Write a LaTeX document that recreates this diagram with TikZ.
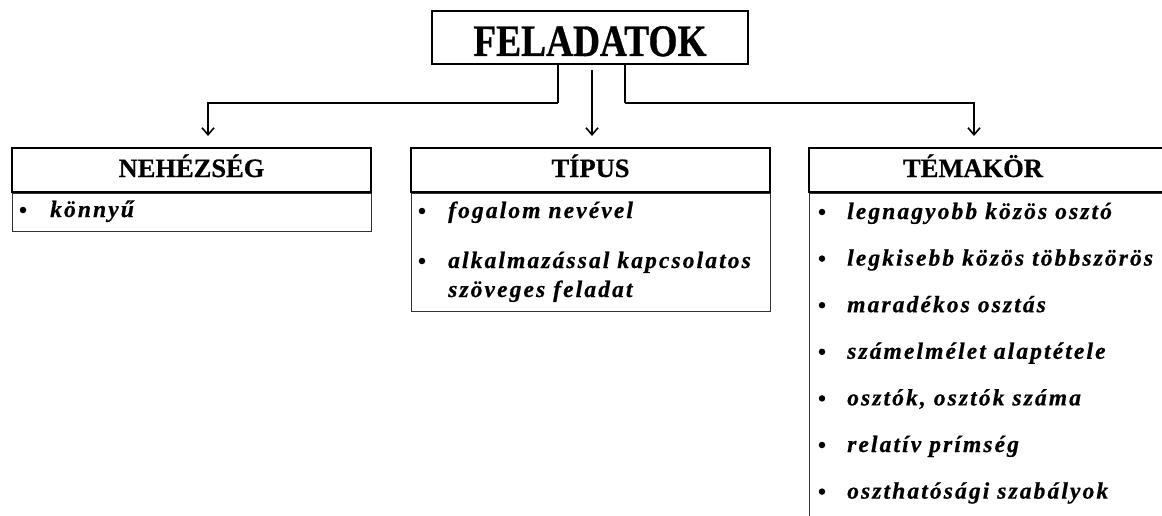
\documentclass[tikz,border=0pt]{standalone}
\usepackage{fontspec}
\setmainfont{Liberation Serif}
\usepackage{graphicx}
\usetikzlibrary{arrows.meta,calc}
\newcommand{\itm}{\fontsize{23.5}{28}\selectfont\bfseries\itshape\addfontfeature{LetterSpace=9,FakeBold=0.6}}
\newcommand{\hdrf}{\fontsize{26.5}{30}\selectfont\bfseries\addfontfeature{FakeBold=0.6}}
\begin{document}
\begin{tikzpicture}[x=1pt,y=-1pt,
  hdr/.style={draw=black,line width=1.6pt,inner sep=0pt,text height=29pt,text depth=15pt,font=\hdrf},
  bodybox/.style={draw=black!80,line width=1pt,inner sep=0pt,anchor=north},
  item/.style={anchor=base west,inner sep=0pt,font=\itm,align=left},
  dot/.style={circle,fill=black,inner sep=0pt,minimum size=6.5pt},
  arr/.style={draw=black,line width=1.6pt,-{Straight Barb[length=7pt,width=12pt]}},
  con/.style={draw=black,line width=1.6pt}]
\useasboundingbox (0,0) rectangle (1162,516);
\fill[white] (0,0) rectangle (1162,516);
% top node
\node (top) [draw=black,line width=1.8pt,minimum width=316pt,minimum height=53pt,inner sep=0pt,
  text height=45pt,text depth=8pt] at (590,37.5)
  {\fontsize{45}{48}\selectfont\bfseries\addfontfeature{FakeBold=0.8}\scalebox{0.83}[1]{FELADATOK}};
% headers
\node (nh) [hdr,minimum width=359pt] at (191.5,170) {NEHÉZSÉG};
\node (th) [hdr,minimum width=359pt] at (590.5,170) {TÍPUS};
\node (mh) [hdr,minimum width=370pt] at (994,170) {};
\node (mht) [font=\hdrf,inner sep=0pt,anchor=base] at (973,177) {TÉMAKÖR};
% body boxes
\node (nb) [bodybox,minimum width=359pt,minimum height=38pt] at (nh.south) {};
\node (tb) [bodybox,minimum width=359pt,minimum height=118pt] at (th.south) {};
\node (mb) [bodybox,minimum width=370pt,minimum height=340pt] at (mh.south) {};
% connectors
\coordinate (la) at (208,136);
\coordinate (ra) at (974,136);
\coordinate (ma) at (592,136);
\draw[con] ([xshift=-32pt]top.south) -- ++(0,38) coordinate (l1);
\draw[arr] (l1) -| (la);
\draw[con] ([xshift=35pt]top.south) -- ++(0,38) coordinate (r1);
\draw[arr] (r1) -| (ra);
\draw[arr] ([xshift=2pt,yshift=-5pt]top.south) -- (ma);
% NEHÉZSÉG items
\node (n1) [item] at (50,217) {könnyű};
\node[dot] (nd1) at (23,210) {};
% TÍPUS items
\node (t1) [item] at (448,218) {fogalom nevével};
\node[dot] (td1) at (422,211) {};
\node (t2) [item] at (448,268) {alkalmazással kapcsolatos};
\node[dot] (td2) at (422,261) {};
\node (t3) [item] at (448,297) {szöveges feladat};
% TÉMAKÖR items
\foreach \t [count=\i] in {legnagyobb közös osztó,legkisebb közös többszörös,maradékos osztás,számelmélet alaptétele,{osztók, osztók száma},relatív prímség,oszthatósági szabályok}{
  \node (m\i) [item] at (847,{219+46.6*(\i-1)}) {\t};
  \node[dot] (md\i) at (822,{212+46.6*(\i-1)}) {};
}
\end{tikzpicture}
\end{document}
